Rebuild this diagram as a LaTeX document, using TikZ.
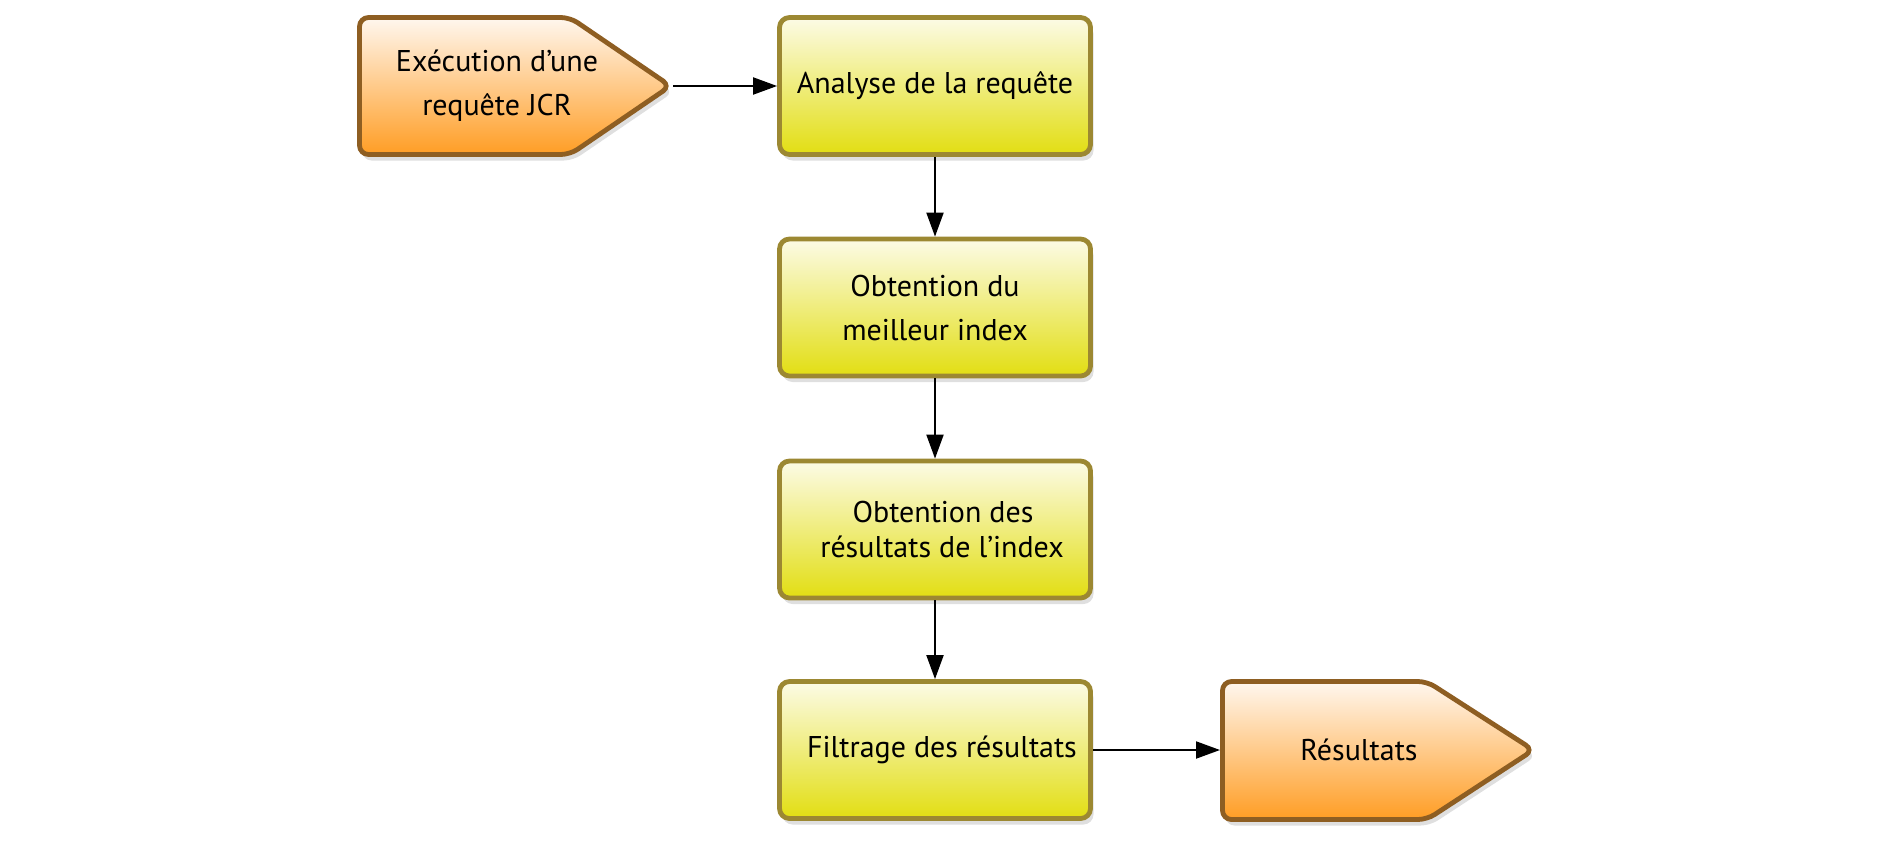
\documentclass[tikz,border=0pt]{standalone}
\usepackage{fontspec}
\setmainfont{PT Sans}
\usetikzlibrary{arrows.meta,shadows}
\definecolor{yborder}{HTML}{9C8832}
\definecolor{ytop}{HTML}{FCFBE6}
\definecolor{ymid}{HTML}{EEEA72}
\definecolor{ybot}{HTML}{E2DE12}
\definecolor{oborder}{HTML}{8E5E22}
\definecolor{otop}{HTML}{FFF7EF}
\definecolor{omid}{HTML}{FFC98C}
\definecolor{obot}{HTML}{FF9D24}
\begin{document}
\begin{tikzpicture}[x=1pt,y=-1pt,
  txt/.style={font=\fontsize{30}{44}\selectfont, align=center},
  procbox/.style={draw=yborder, line width=4.8pt, rounded corners=10pt,
    minimum width=311pt, minimum height=137pt, inner sep=0pt,
    top color=ytop, middle color=ymid, bottom color=ybot,
    drop shadow={opacity=0.25, shadow xshift=3pt, shadow yshift=-6pt},
    txt},
  termshape/.style={draw=oborder, line width=4.8pt, rounded corners=9pt,
    top color=otop, middle color=omid, bottom color=obot,
    drop shadow={opacity=0.25, shadow xshift=3pt, shadow yshift=-6pt}},
  flow/.style={line width=2pt, -{Triangle[length=24pt,width=17pt]}}
]
\useasboundingbox (0,0) rectangle (1900,851);

% start terminal
\path[termshape] (359.5,17.5) -- (570,17.5) -- (670.5,86) -- (570,154.5) -- (359.5,154.5) -- cycle;
\node[txt] (start) at (497,86) {Exécution d’une\\requête JCR};
\coordinate (starttip) at (673,86);

\node[procbox] (analyse) at (935,86) {Analyse de la requête};
\node[procbox] (best) at (935,307.5) {Obtention du\\meilleur index};
\node[procbox, font=\fontsize{30}{35}\selectfont] (res) at (935,529.5) {\hspace*{16pt}Obtention des\\\hspace*{14pt}résultats de l’index};
\node[procbox] (filter) at (935,750) {\hspace*{14pt}Filtrage des résultats};

% end terminal
\path[termshape] (1222.5,681.5) -- (1427,681.5) -- (1533.5,750) -- (1427,819.5) -- (1222.5,819.5) -- cycle;
\coordinate (outleft) at (1220,750);
\node[txt] (out) at (1359,750) {Résultats};

\draw[flow] (starttip) -- (analyse.west);
\draw[flow] (analyse.south) -- (best.north);
\draw[flow] (best.south) -- (res.north);
\draw[flow] (res.south) -- (filter.north);
\draw[flow] (filter.east) -- (outleft);
\end{tikzpicture}
\end{document}
